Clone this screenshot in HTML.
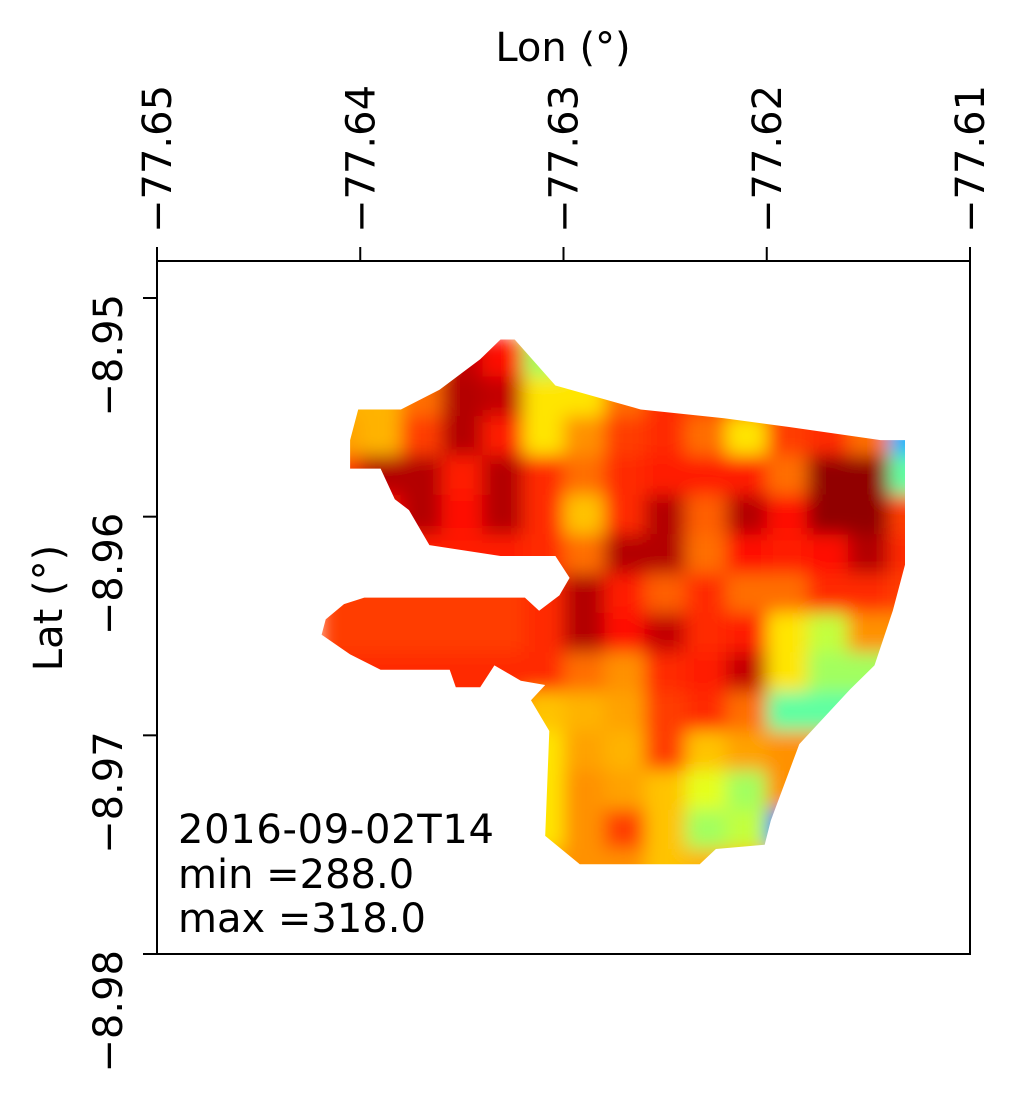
<!DOCTYPE html>
<html><head><meta charset="utf-8"><style>
html,body{margin:0;padding:0;background:#fff;}
svg{display:block;font-family:"DejaVu Sans","Liberation Sans",sans-serif;}
</style></head><body>
<svg id="chart" width="1019" height="1096" viewBox="0 0 1019 1096" xmlns="http://www.w3.org/2000/svg">
<defs>
<filter id="smooth" filterUnits="userSpaceOnUse" x="320" y="337" width="610" height="591">
<feGaussianBlur stdDeviation="9" edgeMode="duplicate"/>
</filter>
<clipPath id="shapeClip"><polygon id="shapePoly" points=""/></clipPath>
</defs>
<g id="field" clip-path="url(#shapeClip)"><g id="cells" filter="url(#smooth)"></g></g>
<rect x="157" y="261" width="813" height="693" fill="none" stroke="#000" stroke-width="2"/>
<g id="xticks"></g>
<g id="yticks"></g>
<text x="563" y="61" font-size="40" text-anchor="middle">Lon (°)</text>
<text x="0" y="0" font-size="40" text-anchor="middle" transform="translate(62,608) rotate(-90)">Lat (°)</text>
<g font-size="40">
<text x="178" y="843" textLength="316">2016-09-02T14</text>
<text x="178" y="888">min =288.0</text>
<text x="178" y="932">max =318.0</text>
</g>
</svg>
<script>
const lonTicks = [-77.65, -77.64, -77.63, -77.62, -77.61];
const lonTickLabels = ["−77.65", "−77.64", "−77.63", "−77.62", "−77.61"];
const latTicks = [-8.95, -8.96, -8.97, -8.98];
const latTickLabels = ["−8.95", "−8.96", "−8.97", "−8.98"];
const vmin = 288, vmax = 318;
const gridLon0 = -77.642, gridDLon = 0.002;
const gridLat0 = -8.9518, gridDLat = 0.0018;
const gridValues = [
[312.5,312.5,310,316,314,304,307.5,310,312.5,312.5,312.5,312.5,312.5,312.5,312.5],
[309,309,311,316.5,316,307.5,307.5,311,313,312.5,312.5,312.5,312.5,307.5,300],
[309.5,309,312.5,316.5,313.5,307.5,310,312.5,313,311,307.5,312.5,313,311,297],
[312.5,316.5,316.5,313.5,316.5,313,311,313,313.5,313.5,313.5,311,317.5,317.5,302],
[314,314,316.5,314,316.5,313,308.5,313,316.5,311.5,316.5,314,317.5,317.5,312.5],
[313.5,313.5,313.5,313.5,313.5,313,311,316.5,316.5,311,314,313.5,314,316.5,313],
[312.5,312.5,312.5,312.5,312.5,313,316.5,313.5,311.5,313,311,311,313,313,312.5],
[312.5,312.5,312.5,312.5,312.5,313,316.5,314,316,313,313.5,307.5,305,310,310],
[313,313,313,313,313,313,311,310,313,313.5,316,307.5,304,304,304],
[313,313,313,313,313,308.5,309,309.5,312.5,313,311,302,302,302,302],
[307.5,307.5,307.5,307.5,307.5,307.5,309.5,309,312.5,308.5,309.5,310,310,310,310],
[307.5,307.5,307.5,307.5,307.5,307.5,310,309.5,308.5,306,304,310,310,310,310],
[307.5,307.5,307.5,307.5,307.5,307.5,310,312.5,308.5,304,305,295,295,295,295],
[309.5,309.5,309.5,309.5,309.5,309.5,310,310,308.5,309,309,307.5,307.5,307.5,307.5],
[308,308,308,308,308,308,308,308,308,308,308,308,308,308,308]
];
const outlineLonE4 = [169,176,196,238,279,311,356,368,368,362,353,341,316,302,299,275,267,208,191,193,184,191,179,166,159,147,144,110,95,81,83,92,102,181,188,198,203,196,169,134,124,117,110,95,95,99,120,139,159];
const outlineLatE4 = [19,19,40,51,55,59,65,65,122,143,168,179,204,239,250,252,259,259,246,198,184,177,175,168,178,178,170,170,163,154,147,140,137,137,143,136,128,118,118,113,97,92,78,78,65,51,51,42,28];

const X0 = 157, X1 = 970, LON0 = -77.65, LON1 = -77.61;
const Y0 = 298, Y1 = 954, LAT0 = -8.95, LAT1 = -8.98;
function xScale(lon){ return X0 + (lon - LON0) / (LON1 - LON0) * (X1 - X0); }
function yScale(lat){ return Y0 + (lat - LAT0) / (LAT1 - LAT0) * (Y1 - Y0); }
function jet(v){
  let t = Math.max(0, Math.min(1, (v - vmin) / (vmax - vmin)));
  const c = a => Math.round(255 * Math.max(0, Math.min(1, 1.5 - Math.abs(4 * t - a))));
  return `rgb(${c(3)},${c(2)},${c(1)})`;
}
const NS = "http://www.w3.org/2000/svg";
const cells = document.getElementById("cells");
gridValues.forEach((row, r) => {
  row.forEach((v, c) => {
    const x = xScale(gridLon0 + c * gridDLon), x2 = xScale(gridLon0 + (c + 1) * gridDLon);
    const y = yScale(gridLat0 - r * gridDLat), y2 = yScale(gridLat0 - (r + 1) * gridDLat);
    const rect = document.createElementNS(NS, "rect");
    rect.setAttribute("x", x); rect.setAttribute("y", y);
    rect.setAttribute("width", x2 - x + 0.5); rect.setAttribute("height", y2 - y + 0.5);
    rect.setAttribute("fill", jet(v));
    
    
    cells.appendChild(rect);
  });
});
const pts = outlineLonE4.map((lo, i) => xScale(LON0 + lo * 1e-4).toFixed(1) + "," + yScale(LAT0 - outlineLatE4[i] * 1e-4).toFixed(1)).join(" ");
document.getElementById("shapePoly").setAttribute("points", pts);

const xt = document.getElementById("xticks");
lonTicks.forEach((lon, i) => {
  const x = xScale(lon);
  const ln = document.createElementNS(NS, "line");
  ln.setAttribute("x1", x); ln.setAttribute("x2", x); ln.setAttribute("y1", 247); ln.setAttribute("y2", 261);
  ln.setAttribute("stroke", "#000"); ln.setAttribute("stroke-width", "2");
  
  
  xt.appendChild(ln);
  const tx = document.createElementNS(NS, "text");
  tx.setAttribute("transform", `translate(${x + 14},233) rotate(-90)`);
  tx.setAttribute("font-size", "40");
  tx.textContent = lonTickLabels[i];
  
  
  xt.appendChild(tx);
});
const yt = document.getElementById("yticks");
latTicks.forEach((lat, i) => {
  const y = yScale(lat);
  const ln = document.createElementNS(NS, "line");
  ln.setAttribute("x1", 143); ln.setAttribute("x2", 157); ln.setAttribute("y1", y); ln.setAttribute("y2", y);
  ln.setAttribute("stroke", "#000"); ln.setAttribute("stroke-width", "2");
  
  
  yt.appendChild(ln);
  const tx = document.createElementNS(NS, "text");
  tx.setAttribute("transform", `translate(122,${y - 4}) rotate(-90)`);
  tx.setAttribute("font-size", "40");
  tx.setAttribute("text-anchor", "end");
  tx.textContent = latTickLabels[i];
  
  
  yt.appendChild(tx);
});
</script>
</body></html>
